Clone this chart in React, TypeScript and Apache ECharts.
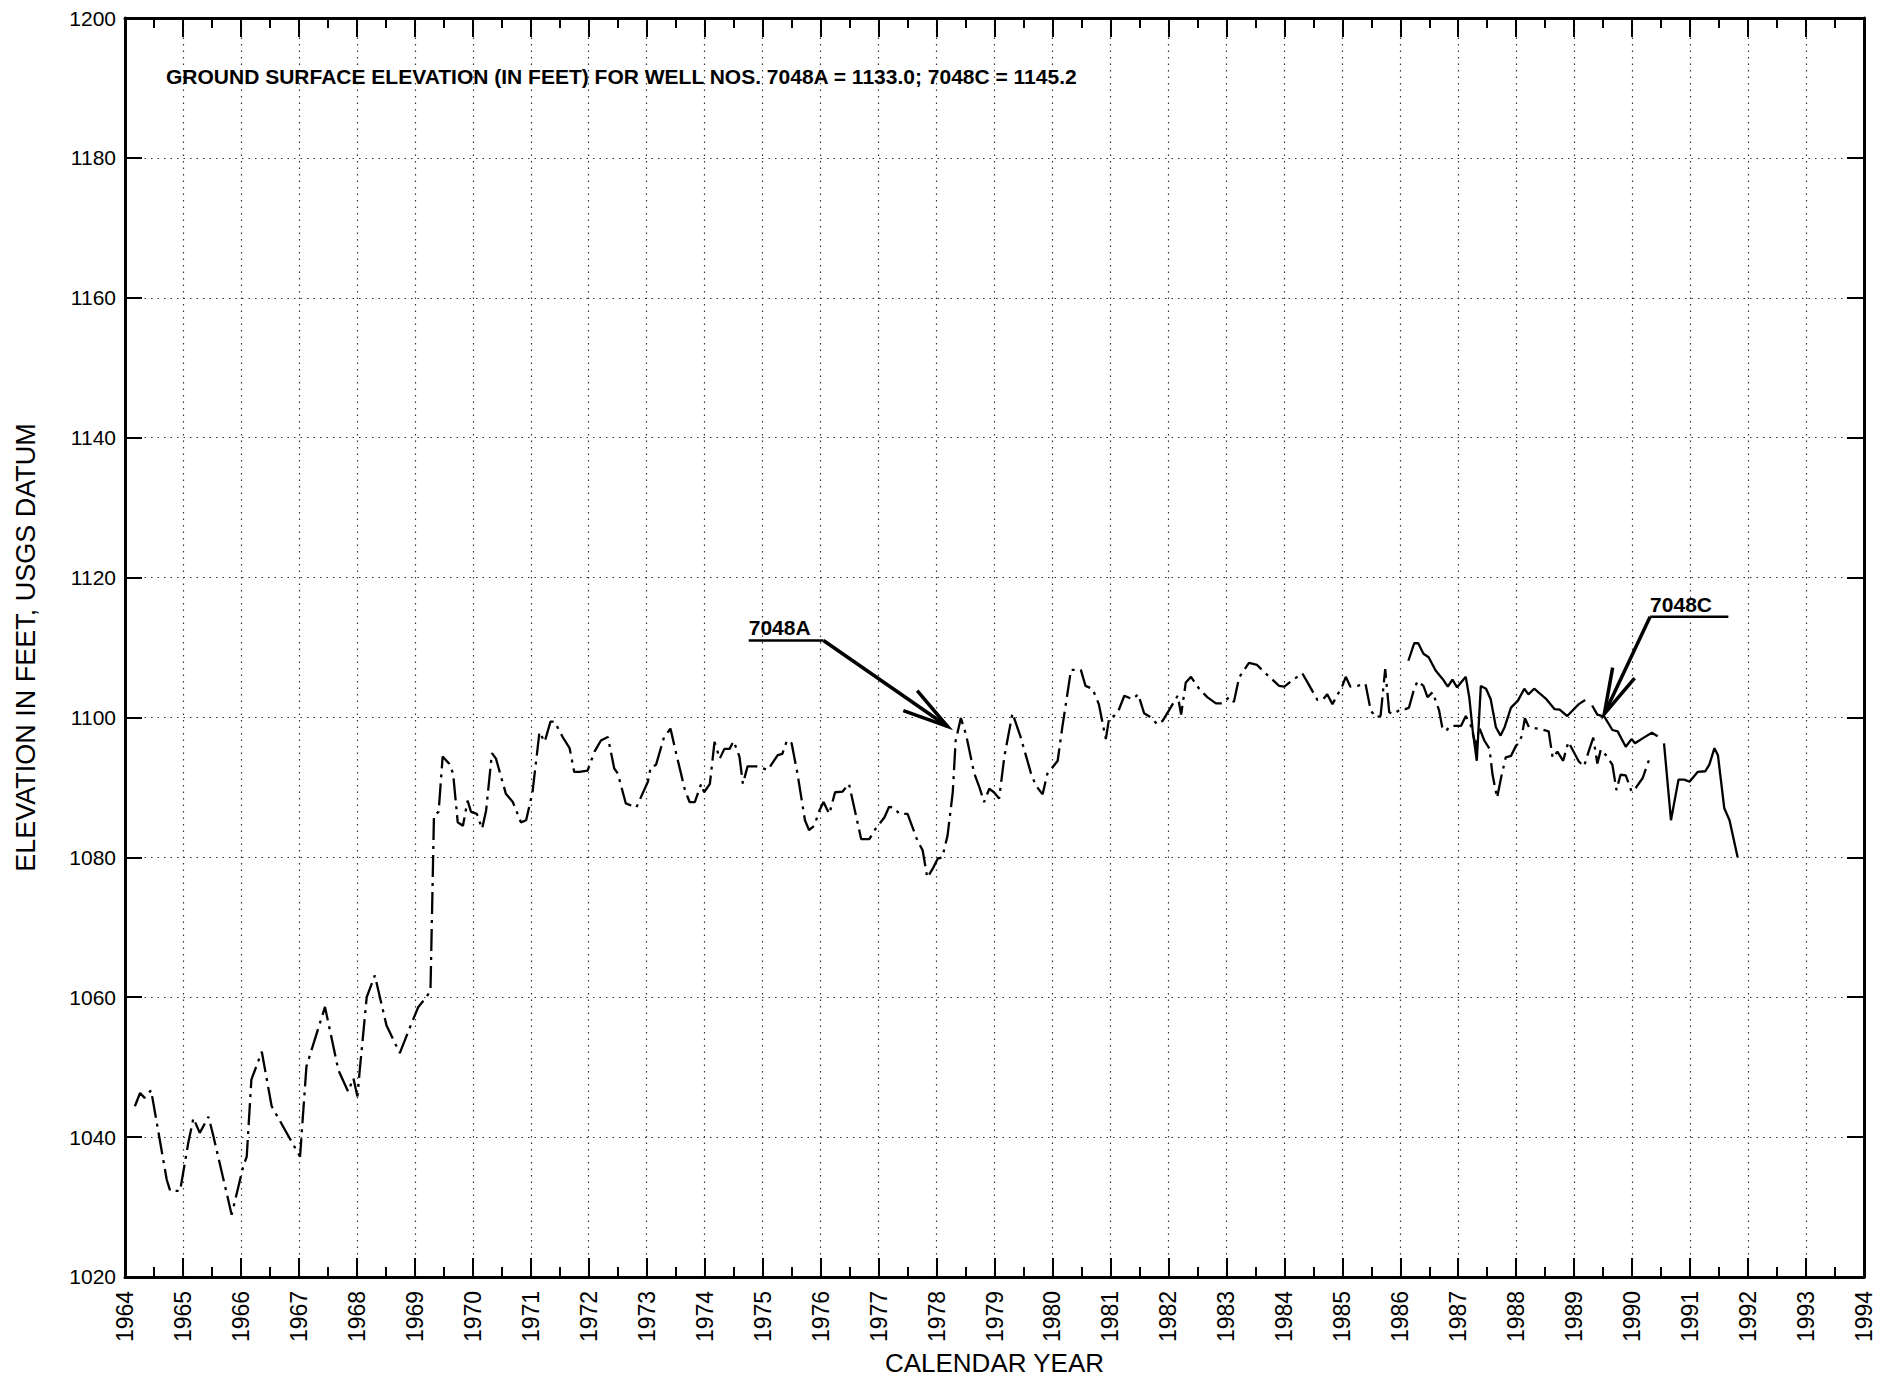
import React, { useEffect, useRef } from "react";
import * as echarts from "echarts";

// ---------- DATA ----------
const yearMin = 1964;
const yearMax = 1994;
const elevMin = 1020;
const elevMax = 1200;
const elevStep = 20;

const titleText =
  "GROUND SURFACE ELEVATION (IN FEET) FOR WELL NOS. 7048A = 1133.0; 7048C = 1145.2";
const xAxisName = "CALENDAR YEAR";
const yAxisName = "ELEVATION IN FEET, USGS DATUM";

// Well 7048A (dash-dot line): [decimal year, elevation ft]
const well7048A: [number, number][] = [
  [1964.17, 1044.4], [1964.26, 1046.3], [1964.34, 1045.6], [1964.45, 1046.7],
  [1964.72, 1033.9], [1964.78, 1032.3], [1964.95, 1032.3], [1965.09, 1039.1],
  [1965.18, 1042.7], [1965.29, 1040.6], [1965.44, 1042.9], [1965.52, 1040.3],
  [1965.84, 1028.9], [1966.04, 1035.8], [1966.1, 1037.2], [1966.18, 1048.2],
  [1966.36, 1052.2], [1966.53, 1044.4], [1967.02, 1037.2], [1967.13, 1050.1],
  [1967.45, 1058.6], [1967.68, 1049.6], [1967.85, 1046.5], [1967.94, 1048.4],
  [1968.01, 1045.8], [1968.05, 1049.6], [1968.17, 1060.0], [1968.31, 1063.1],
  [1968.51, 1056.0], [1968.74, 1052.0], [1968.94, 1056.2], [1969.06, 1058.6],
  [1969.2, 1060.0], [1969.27, 1061.0], [1969.33, 1086.0], [1969.41, 1086.5],
  [1969.48, 1094.4], [1969.59, 1093.4], [1969.66, 1092.0], [1969.74, 1085.0],
  [1969.83, 1084.5], [1969.91, 1088.1], [1969.97, 1086.5], [1970.07, 1086.2],
  [1970.16, 1084.1], [1970.23, 1086.7], [1970.33, 1094.9], [1970.4, 1094.1],
  [1970.57, 1089.1], [1970.69, 1087.9], [1970.83, 1085.0], [1970.92, 1085.3],
  [1971.03, 1089.3], [1971.15, 1097.9], [1971.24, 1096.5], [1971.34, 1099.4],
  [1971.41, 1099.4], [1971.55, 1097.2], [1971.67, 1095.6], [1971.75, 1092.2],
  [1971.84, 1092.2], [1971.98, 1092.4], [1972.1, 1095.1], [1972.21, 1096.7],
  [1972.33, 1097.2], [1972.44, 1092.7], [1972.5, 1092.0], [1972.64, 1087.7],
  [1972.73, 1087.4], [1972.82, 1087.1], [1973.02, 1090.8], [1973.07, 1092.9],
  [1973.16, 1093.2], [1973.3, 1097.2], [1973.41, 1098.4], [1973.51, 1094.8],
  [1973.66, 1089.6], [1973.74, 1087.9], [1973.83, 1087.9], [1973.94, 1090.5],
  [1973.99, 1089.3], [1974.09, 1090.5], [1974.17, 1096.5], [1974.26, 1094.1],
  [1974.34, 1095.5], [1974.43, 1095.5], [1974.5, 1096.6], [1974.6, 1094.4],
  [1974.66, 1090.5], [1974.74, 1093.0], [1974.89, 1093.0], [1975.09, 1092.5],
  [1975.26, 1094.6], [1975.34, 1094.8], [1975.42, 1096.7], [1975.5, 1096.3],
  [1975.6, 1092.0], [1975.73, 1085.3], [1975.8, 1083.9], [1975.89, 1084.5],
  [1975.98, 1086.7], [1976.05, 1087.9], [1976.15, 1086.2], [1976.25, 1089.3],
  [1976.38, 1089.4], [1976.49, 1090.5], [1976.7, 1082.6], [1976.84, 1082.6],
  [1976.95, 1084.1], [1977.1, 1085.7], [1977.18, 1087.2], [1977.27, 1087.1],
  [1977.36, 1086.2], [1977.5, 1086.2], [1977.67, 1082.4], [1977.76, 1081.0],
  [1977.84, 1077.1], [1977.93, 1078.3], [1978.02, 1079.8], [1978.1, 1080.0],
  [1978.19, 1083.1], [1978.28, 1089.3], [1978.33, 1096.7], [1978.42, 1099.9],
  [1978.51, 1097.5], [1978.65, 1092.0], [1978.74, 1090.0], [1978.82, 1087.9],
  [1978.91, 1089.8], [1978.99, 1089.3], [1979.08, 1088.4], [1979.17, 1094.4],
  [1979.31, 1100.6], [1979.45, 1097.2], [1979.63, 1092.0], [1979.71, 1090.3],
  [1979.83, 1089.0], [1979.91, 1091.9], [1980.09, 1093.8], [1980.17, 1098.6],
  [1980.32, 1106.8], [1980.49, 1106.8], [1980.57, 1104.5], [1980.69, 1104.1],
  [1980.8, 1101.9], [1980.92, 1096.9], [1980.98, 1100.0], [1981.06, 1100.2],
  [1981.15, 1101.2], [1981.24, 1103.1], [1981.38, 1102.6], [1981.48, 1103.3],
  [1981.58, 1100.6], [1981.7, 1100.0], [1981.81, 1099.0], [1981.9, 1099.5],
  [1982.01, 1101.0], [1982.16, 1103.1], [1982.22, 1100.4], [1982.3, 1105.0],
  [1982.39, 1105.8], [1982.53, 1104.1], [1982.67, 1102.9], [1982.82, 1102.0],
  [1982.93, 1102.0], [1983.05, 1102.9], [1983.13, 1102.2], [1983.22, 1105.7],
  [1983.39, 1107.8], [1983.53, 1107.5], [1983.65, 1106.5], [1983.91, 1104.5],
  [1984.0, 1104.4], [1984.17, 1105.5], [1984.31, 1106.3], [1984.4, 1105.0],
  [1984.57, 1102.5], [1984.66, 1102.5], [1984.74, 1103.3], [1984.83, 1101.9],
  [1985.0, 1104.5], [1985.06, 1105.8], [1985.14, 1104.4], [1985.26, 1104.5],
  [1985.4, 1104.8], [1985.49, 1101.0], [1985.58, 1100.0], [1985.66, 1100.2],
  [1985.74, 1106.9], [1985.81, 1100.7], [1985.89, 1100.5], [1986.01, 1101.2],
  [1986.1, 1101.2], [1986.15, 1101.4], [1986.24, 1104.1], [1986.3, 1105.2],
  [1986.4, 1104.5], [1986.47, 1102.9], [1986.56, 1103.6], [1986.61, 1102.4],
  [1986.67, 1101.0], [1986.73, 1098.3], [1986.79, 1098.1], [1986.87, 1098.8],
  [1987.05, 1098.8], [1987.13, 1100.2], [1987.22, 1098.8], [1987.31, 1095.7],
  [1987.36, 1098.6], [1987.45, 1096.7], [1987.54, 1095.5], [1987.59, 1091.9],
  [1987.67, 1088.5], [1987.74, 1091.4], [1987.82, 1094.3], [1987.91, 1094.5],
  [1988.0, 1096.0], [1988.05, 1096.3], [1988.1, 1097.5], [1988.15, 1099.9],
  [1988.22, 1098.6], [1988.31, 1098.5], [1988.43, 1098.3], [1988.56, 1098.0],
  [1988.63, 1094.2], [1988.71, 1095.1], [1988.81, 1093.8], [1988.9, 1096.5],
  [1989.08, 1093.7], [1989.17, 1093.0], [1989.26, 1095.4], [1989.33, 1097.1],
  [1989.4, 1093.4], [1989.46, 1095.4], [1989.57, 1094.4], [1989.66, 1093.2],
  [1989.73, 1089.6], [1989.8, 1091.8], [1989.89, 1091.7], [1989.99, 1089.4],
  [1990.06, 1089.9], [1990.18, 1091.3], [1990.29, 1093.9],
];

// Well 7048C (solid line): [decimal year, elevation ft]; null = gap in record
const well7048C: [number, number | null][] = [
  [1986.14, 1108.1], [1986.24, 1110.6], [1986.31, 1110.6], [1986.4, 1109.1],
  [1986.49, 1108.6], [1986.61, 1106.7], [1986.73, 1105.5], [1986.82, 1104.4],
  [1986.9, 1105.4], [1986.98, 1104.3], [1987.13, 1105.8], [1987.19, 1102.9],
  [1987.25, 1098.1], [1987.32, 1093.8], [1987.39, 1104.5], [1987.48, 1104.1],
  [1987.56, 1102.6], [1987.65, 1098.6], [1987.73, 1097.4], [1987.8, 1098.6],
  [1987.91, 1101.4], [1988.03, 1102.4], [1988.14, 1104.1], [1988.21, 1103.3],
  [1988.31, 1104.1], [1988.52, 1102.6], [1988.66, 1101.2], [1988.75, 1101.1],
  [1988.88, 1100.2], [1989.08, 1101.9], [1989.19, 1102.5], [1989.25, null],
  [1989.31, 1101.7], [1989.4, 1100.4], [1989.52, 1100.1], [1989.66, 1098.2],
  [1989.75, 1098.0], [1989.89, 1095.8], [1989.99, 1096.9], [1990.05, 1096.3],
  [1990.18, 1097.0], [1990.34, 1097.8], [1990.44, 1097.3], [1990.5, null],
  [1990.55, 1096.3], [1990.67, 1085.3], [1990.8, 1091.1], [1990.9, 1091.1],
  [1990.99, 1090.8], [1991.13, 1092.2], [1991.26, 1092.3], [1991.33, 1093.2],
  [1991.42, 1095.6], [1991.48, 1094.6], [1991.59, 1087.0], [1991.68, 1085.3],
  [1991.82, 1080.0],
];

// Callout labels
const calloutLabels = ["7048A", "7048C"];

// ---------- COMPONENT ----------
export default function App() {
  const ref = useRef<HTMLDivElement>(null);

  useEffect(() => {
    document.body.style.margin = "0";
    const el = ref.current;
    if (!el) return;
    const chart = echarts.init(el, null, { renderer: "svg" });

    const FONT = "'Liberation Sans', Arial, Helvetica, sans-serif";
    const NARROW =
      "'Liberation Sans Narrow', 'Arial Narrow', 'Liberation Sans', Arial, sans-serif";
    const black = "#000";
    const gridLine = { show: true, lineStyle: { color: "#333", width: 1.2, type: [1.5, 5] as any } };
    const frame = { show: true, onZero: false, lineStyle: { color: black, width: 3 } };
    const majorTick = { show: true, inside: true, length: 19, lineStyle: { color: black, width: 2 } };
    const minorTick = { show: true, splitNumber: 2, length: 10, lineStyle: { color: black, width: 2 } };

    const option: any = {
      animation: false,
      backgroundColor: "#fff",
      title: {
        text: titleText,
        left: 161,
        top: 61,
        textStyle: { fontFamily: FONT, fontWeight: "bold", fontSize: 21, color: black },
      },
      grid: { left: 125, right: 24, top: 18, bottom: 101, containLabel: false },
      xAxis: [
        {
          type: "value",
          position: "bottom",
          min: yearMin,
          max: yearMax,
          interval: 1,
          axisLine: frame,
          axisTick: majorTick,
          minorTick,
          splitLine: gridLine,
          axisLabel: {
            rotate: 90,
            margin: 14,
            fontSize: 23,
            fontFamily: NARROW,
            color: black,
            showMinLabel: true,
            showMaxLabel: true,
            formatter: (v: number) => String(v),
          },
          name: xAxisName,
          nameLocation: "middle",
          nameGap: 72,
          nameTextStyle: { fontFamily: FONT, fontSize: 26, color: black },
        },
        {
          type: "value",
          position: "top",
          min: yearMin,
          max: yearMax,
          interval: 1,
          axisLine: frame,
          axisTick: majorTick,
          minorTick,
          splitLine: { show: false },
          axisLabel: { show: false },
        },
      ],
      yAxis: [
        {
          type: "value",
          position: "left",
          min: elevMin,
          max: elevMax,
          interval: elevStep,
          axisLine: frame,
          axisTick: { ...majorTick, length: 17 },
          splitLine: gridLine,
          axisLabel: {
            margin: 9,
            fontSize: 21,
            fontFamily: NARROW,
            color: black,
            showMinLabel: true,
            showMaxLabel: true,
            formatter: (v: number) => String(v),
          },
          name: yAxisName,
          nameLocation: "middle",
          nameGap: 86,
          nameTextStyle: { fontFamily: FONT, fontSize: 27, color: black },
        },
        {
          type: "value",
          position: "right",
          min: elevMin,
          max: elevMax,
          interval: elevStep,
          axisLine: frame,
          axisTick: { ...majorTick, length: 17 },
          splitLine: { show: false },
          axisLabel: { show: false },
        },
      ],
      series: [
        {
          name: "7048A",
          type: "line",
          data: well7048A,
          showSymbol: false,
          symbol: "none",
          lineStyle: { color: black, width: 2.3, type: [22, 6, 3, 6], cap: "butt" },
          z: 3,
        },
        {
          name: "7048C",
          type: "line",
          data: well7048C,
          showSymbol: false,
          symbol: "none",
          connectNulls: false,
          lineStyle: { color: black, width: 2.3, type: "solid" },
          z: 3,
        },
      ],
    };
    chart.setOption(option);

    // ---- callout annotations (placed in data coordinates) ----
    const px = (v: [number, number]) => chart.convertToPixel({ gridIndex: 0 }, v) as number[];
    const callouts = [
      { text: calloutLabels[0], lineStart: [1974.76, 1111.0], lineEnd: [1976.05, 1111.0], from: [1976.05, 1111.0], tip: [1978.19, 1098.7] },
      { text: calloutLabels[1], lineStart: [1990.31, 1114.4], lineEnd: [1991.66, 1114.4], from: [1990.31, 1114.4], tip: [1989.52, 1100.5] },
    ];
    const graphics: any[] = [];
    callouts.forEach((c) => {
      const a = px(c.lineStart as [number, number]);
      const b = px(c.lineEnd as [number, number]);
      const f = px(c.from as [number, number]);
      const t = px(c.tip as [number, number]);
      graphics.push({
        type: "text",
        x: a[0],
        y: a[1] - 2,
        style: {
          text: c.text,
          font: `bold 21px ${FONT}`,
          fill: black,
          align: "left",
          verticalAlign: "bottom",
          textAlign: "left",
          textVerticalAlign: "bottom",
        },
        z: 10,
      });
      graphics.push({
        type: "line",
        shape: { x1: a[0], y1: a[1], x2: b[0], y2: b[1] },
        style: { stroke: black, lineWidth: 2.5 },
        z: 10,
      });
      graphics.push({
        type: "line",
        shape: { x1: f[0], y1: f[1], x2: t[0], y2: t[1] },
        style: { stroke: black, lineWidth: 3.5 },
        z: 10,
      });
      const dx = f[0] - t[0];
      const dy = f[1] - t[1];
      const len = Math.hypot(dx, dy);
      const ux = dx / len;
      const uy = dy / len;
      const ang = (15 * Math.PI) / 180;
      const L = 47;
      const rot = (s: number) => [
        t[0] + L * (ux * Math.cos(s * ang) - uy * Math.sin(s * ang)),
        t[1] + L * (ux * Math.sin(s * ang) + uy * Math.cos(s * ang)),
      ];
      graphics.push({
        type: "polyline",
        shape: { points: [rot(1), [t[0], t[1]], rot(-1)] },
        style: { stroke: black, lineWidth: 3.5, fill: null },
        z: 10,
      });
    });
    chart.setOption({ graphic: graphics });

    return () => {
      chart.dispose();
    };
  }, []);

  return (
    <div
      ref={ref}
      style={{ position: "absolute", left: 0, top: 0, width: 1888, height: 1381, background: "#fff" }}
    />
  );
}
